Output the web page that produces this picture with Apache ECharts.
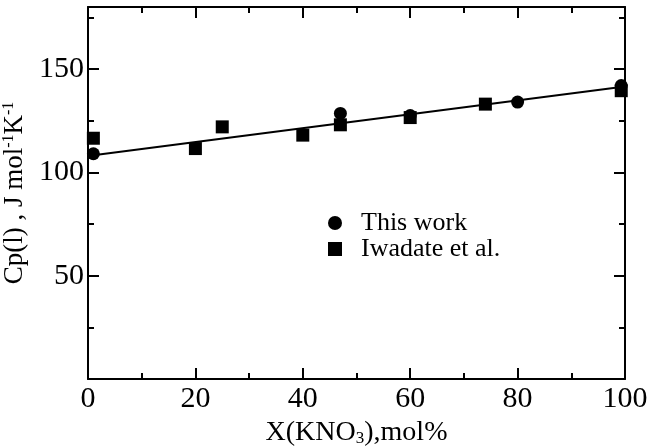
<!DOCTYPE html>
<html>
<head>
<meta charset="utf-8">
<script src="https://cdn.jsdelivr.net/npm/echarts@6/dist/echarts.min.js"></script>
<style>
html,body{margin:0;padding:0;background:#fff;}
#chart{width:650px;height:447px;}
</style>
</head>
<body>
<div id="chart"></div>
<script>
var thisWorkX = [1, 47, 60, 80, 99.3];
var thisWorkY = [109, 128.5, 127.5, 134, 142];
var iwadateX = [1, 20, 25, 40, 47, 60, 74, 99.3];
var iwadateY = [116.5, 111.5, 122, 118, 123, 126.5, 133, 139.5];
var fitX = [1, 100];
var fitY = [108.3, 141.5];
var xTicks = [0, 20, 40, 60, 80, 100];
var yTicks = [50, 100, 150];

var FONT = 'Liberation Serif';

function pairs(xs, ys){
	var out = [];
	for (var i = 0; i < xs.length; i++) out.push([xs[i], ys[i]]);
	return out;
}

var chart = echarts.init(document.getElementById("chart"));

var tickStyle = {show:true, inside:true, length:11, lineStyle:{color:'#000', width:2}};
var minorStyle = {show:true, splitNumber:2, length:6, lineStyle:{color:'#000', width:2}};
var lineStyle = {show:true, onZero:false, lineStyle:{color:'#000', width:2}};

var option = {
	backgroundColor:'#fff',
	animation:false,
	grid:{left:88, right:25, top:7, bottom:68, containLabel:false, outerBoundsMode:'none'},
	legend:{
		orient:'vertical',
		left:323, top:205,
		itemWidth:14, itemHeight:14, itemGap:0,
		textStyle:{fontFamily:FONT, fontSize:26, color:'#000', lineHeight:26, padding:[0,0,0,14]},
		data:[
			{name:'This work', icon:'circle', itemStyle:{color:'#000', opacity:1}},
			{name:'Iwadate et al.', icon:'rect', itemStyle:{color:'#000', opacity:1}}
		]
	},
	xAxis:[
		{
			type:'value', min:0, max:100, interval:20, position:'bottom',
			axisLine:lineStyle, axisTick:tickStyle, minorTick:minorStyle,
			splitLine:{show:false},
			axisLabel:{
				fontFamily:FONT, fontSize:30, color:'#000', margin:5,
				formatter:function(v){ return xTicks.indexOf(v) >= 0 ? String(v) : ''; }
			},
			name:'X(KNO{sub|3}),mol%',
			nameLocation:'middle', nameGap:31,
			nameTextStyle:{
				fontFamily:FONT, fontSize:28, color:'#000',
				rich:{sub:{fontFamily:FONT, fontSize:17, color:'#000', verticalAlign:'bottom', padding:[12,0,0,0]}}
			}
		},
		{
			type:'value', min:0, max:100, interval:20, position:'top',
			axisLine:lineStyle, axisTick:tickStyle, minorTick:minorStyle,
			splitLine:{show:false}, axisLabel:{show:false}
		}
	],
	yAxis:[
		{
			type:'value', min:0, max:180, interval:50, position:'left',
			axisLine:lineStyle, axisTick:tickStyle, minorTick:minorStyle,
			splitLine:{show:false},
			axisLabel:{
				fontFamily:FONT, fontSize:30, color:'#000', margin:4,
				formatter:function(v){ return yTicks.indexOf(v) >= 0 ? String(v) : ''; }
			},
			name:'Cp(l) , J mol{sup|-1}K{sup|-1}',
			nameLocation:'middle', nameRotate:90, nameGap:47,
			nameTextStyle:{
				fontFamily:FONT, fontSize:27, color:'#000',
				rich:{sup:{fontFamily:FONT, fontSize:16, color:'#000', verticalAlign:'top', padding:[0,0,12,0]}}
			}
		},
		{
			type:'value', min:0, max:180, interval:50, position:'right',
			axisLine:lineStyle, axisTick:tickStyle, minorTick:minorStyle,
			splitLine:{show:false}, axisLabel:{show:false}
		}
	],
	series:[
		{
			name:'fit', type:'line', data:pairs(fitX, fitY),
			symbol:'none', lineStyle:{color:'#000', width:2}, z:1
		},
		{
			name:'This work', type:'scatter', data:pairs(thisWorkX, thisWorkY),
			symbol:'circle', symbolSize:13, itemStyle:{color:'#000', opacity:1}, z:3
		},
		{
			name:'Iwadate et al.', type:'scatter', data:pairs(iwadateX, iwadateY),
			symbol:'rect', symbolSize:13, itemStyle:{color:'#000', opacity:1}, z:2
		}
	]
};

chart.setOption(option);
</script>
</body>
</html>
